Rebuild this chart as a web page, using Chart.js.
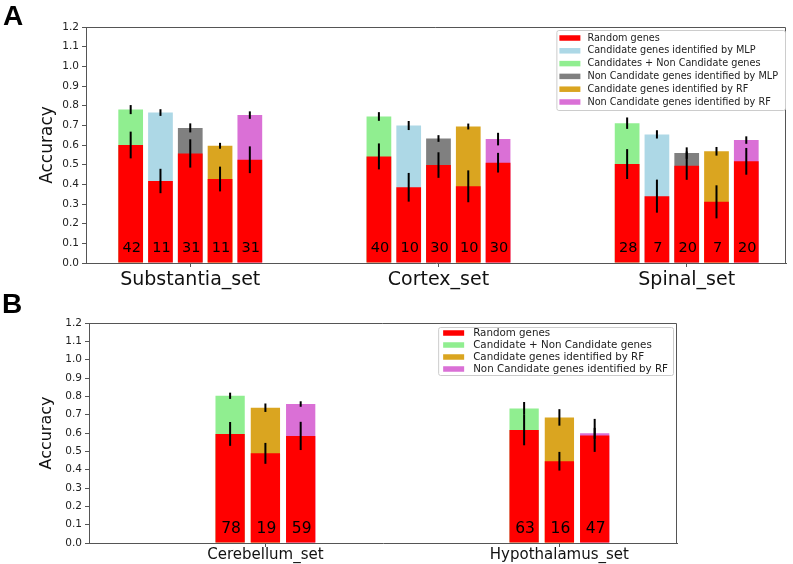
<!DOCTYPE html>
<html>
<head>
<meta charset="utf-8">
<script src="https://cdn.jsdelivr.net/npm/chart.js@4.4.1/dist/chart.umd.min.js"></script>
<style>
  body { margin: 0; background: #fff; width: 793px; height: 564px; position: relative; overflow: hidden; }
  .panel { position: absolute; left: 0; }
  .tag { position: absolute; z-index: 2; font: bold 28px 'Liberation Sans', Arial, sans-serif; color: #000; line-height: normal; }
</style>
</head>
<body>
<div class="panel" style="top:0"><canvas id="chartA" width="793" height="295"></canvas></div>
<div class="panel" style="top:290px"><canvas id="chartB" width="793" height="274"></canvas></div>
<div class="tag" style="left:3px; top:0">A</div>
<div class="tag" style="left:2px; top:288px">B</div>
<script>
Chart.defaults.font.family = "'DejaVu Sans', sans-serif";
Chart.defaults.color = '#222';

// panel A
const groupsA = ['Substantia_set', 'Cortex_set', 'Spinal_set'];
const randomA = [0.600, 0.417, 0.557, 0.427, 0.525, 0.542, 0.385, 0.498, 0.390, 0.510, 0.503, 0.340, 0.495, 0.311, 0.517];
const randomErrA = [0.068, 0.062, 0.072, 0.063, 0.068, 0.066, 0.073, 0.065, 0.081, 0.050, 0.076, 0.084, 0.072, 0.084, 0.068];
const countsA = [42, 11, 31, 11, 31, 40, 10, 30, 10, 30, 28, 7, 20, 7, 20];
const candMlpA = [0.765, 0.699, 0.654];
const candMlpErrA = [0.017, 0.023, 0.021];
const bothA = [0.780, 0.745, 0.711];
const bothErrA = [0.023, 0.022, 0.029];
const nonMlpA = [0.687, 0.633, 0.559];
const nonMlpErrA = [0.023, 0.017, 0.029];
const candRfA = [0.596, 0.694, 0.568];
const candRfErrA = [0.015, 0.015, 0.022];
const nonRfA = [0.752, 0.630, 0.625];
const nonRfErrA = [0.019, 0.032, 0.019];

// panel B
const groupsB = ['Cerebellum_set', 'Hypothalamus_set'];
const randomB = [0.595, 0.489, 0.584, 0.616, 0.446, 0.587];
const randomErrB = [0.065, 0.057, 0.077, 0.083, 0.051, 0.090];
const countsB = [78, 19, 59, 63, 16, 47];
const bothB = [0.803, 0.734];
const bothErrB = [0.017, 0.035];
const candRfB = [0.738, 0.685];
const candRfErrB = [0.023, 0.045];
const nonRfB = [0.758, 0.598];
const nonRfErrB = [0.015, 0.030];

const yTicks = [0.0, 0.1, 0.2, 0.3, 0.4, 0.5, 0.6, 0.7, 0.8, 0.9, 1.0, 1.1, 1.2];

const RED = '#ff0000', LIGHTBLUE = '#add8e6', LIGHTGREEN = '#90ee90';
const GRAY = '#808080', GOLD = '#daa520', ORCHID = '#da70d6';
const SPINE = '#555';
const BAR_STEP = 0.12;

function slotX(group, slot, nSlots) {
  return group + (slot - (nSlots - 1) / 2) * BAR_STEP;
}

function randomSet(values, errs, counts, nSlots) {
  return {
    label: 'Random genes',
    backgroundColor: RED,
    data: values.map((v, i) => ({ x: slotX(Math.floor(i / nSlots), i % nSlots, nSlots), y: v })),
    errors: errs,
    counts: counts,
  };
}

function topSet(label, color, slot, nSlots, values, errs) {
  return {
    label: label,
    backgroundColor: color,
    data: values.map((v, g) => ({ x: slotX(g, slot, nSlots), y: v })),
    errors: errs,
  };
}

// top + right spines
const frame = {
  id: 'frame',
  afterDraw(chart) {
    const { ctx, chartArea: { left, right, top, bottom } } = chart;
    ctx.save();
    ctx.strokeStyle = SPINE;
    ctx.lineWidth = 1;
    ctx.beginPath();
    ctx.moveTo(left, top + 0.5);
    ctx.lineTo(right - 0.5, top + 0.5);
    ctx.lineTo(right - 0.5, bottom);
    ctx.stroke();
    ctx.restore();
  },
};

// error bars and the gene counts at the foot of each bar
const barNotes = {
  id: 'barNotes',
  afterDatasetsDraw(chart, args, opts) {
    const { ctx, scales: { y } } = chart;
    ctx.save();
    ctx.strokeStyle = '#000';
    ctx.lineWidth = 2;
    chart.data.datasets.forEach((ds, i) => {
      chart.getDatasetMeta(i).data.forEach((bar, j) => {
        const v = ds.data[j].y;
        const e = ds.errors[j];
        ctx.beginPath();
        ctx.moveTo(bar.x, y.getPixelForValue(v - e));
        ctx.lineTo(bar.x, y.getPixelForValue(v + e));
        ctx.stroke();
      });
    });

    const base = chart.data.datasets[0];
    ctx.font = opts.fontSize + "px 'DejaVu Sans'";
    ctx.fillStyle = '#000';
    ctx.textAlign = 'center';
    ctx.textBaseline = 'middle';
    chart.getDatasetMeta(0).data.forEach((bar, j) => {
      ctx.fillText(String(base.counts[j]), bar.x + 1, y.getPixelForValue(opts.at));
    });
    ctx.restore();
  },
};

// matplotlib style legend box
const boxLegend = {
  id: 'boxLegend',
  afterDraw(chart, args, o) {
    const { ctx, chartArea } = chart;
    const items = chart.data.datasets.map((d) => ({ text: d.label, color: d.backgroundColor }));
    ctx.save();
    ctx.font = o.fontSize + "px 'DejaVu Sans'";
    const textW = Math.max(...items.map((it) => ctx.measureText(it.text).width));
    const w = o.textX + textW + o.padRight;
    const h = o.padTop * 2 + o.rowH * (items.length - 1) + 6;
    const left = chartArea.right - o.offsetRight - w;
    const top = chartArea.top + o.offsetTop;

    ctx.fillStyle = 'rgba(255,255,255,0.9)';
    ctx.strokeStyle = '#cccccc';
    ctx.lineWidth = 1;
    ctx.beginPath();
    ctx.roundRect(left + 0.5, top + 0.5, w, h, 2);
    ctx.fill();
    ctx.stroke();

    ctx.textAlign = 'left';
    ctx.textBaseline = 'middle';
    items.forEach((it, i) => {
      const cy = top + o.padTop + 3 + i * o.rowH;
      ctx.fillStyle = it.color;
      ctx.fillRect(left + o.swatchX, cy - o.swatchH / 2, o.swatchW, o.swatchH);
      ctx.fillStyle = '#222';
      ctx.fillText(it.text, left + o.textX, cy);
    });
    ctx.restore();
  },
};

function makeChart(id, groups, datasets, o) {
  return new Chart(document.getElementById(id), {
    type: 'bar',
    data: { datasets: datasets },
    options: {
      responsive: false,
      animation: false,
      layout: { padding: o.padding },
      datasets: {
        bar: { grouped: false, barPercentage: 0.83, categoryPercentage: 1, borderWidth: 0 },
      },
      scales: {
        x: {
          type: 'linear',
          min: o.xMin,
          max: o.xMax,
          bounds: 'data',
          offset: false,
          afterFit: (s) => { s.height = o.xHeight; },
          afterBuildTicks: (s) => { s.ticks = groups.map((_, i) => ({ value: i })); },
          ticks: {
            callback: (v) => groups[v],
            font: { size: o.xFont },
            color: '#111',
            padding: o.xPad,
            maxRotation: 0,
            autoSkip: false,
          },
          grid: { display: true, drawOnChartArea: false, tickLength: 4, color: SPINE, offset: false },
          border: { color: SPINE },
        },
        y: {
          min: 0,
          max: 1.2,
          bounds: 'data',
          afterFit: (s) => { s.width = o.yWidth; },
          afterBuildTicks: (s) => { s.ticks = yTicks.map((v) => ({ value: v })); },
          ticks: {
            callback: (v) => v.toFixed(1),
            font: { size: 10.5 },
            color: '#222',
            padding: 3,
            autoSkip: false,
          },
          grid: { display: true, drawOnChartArea: false, tickLength: 4, color: SPINE },
          border: { color: SPINE },
          title: {
            display: true,
            text: 'Accuracy',
            font: { size: o.titleFont },
            color: '#111',
            padding: { top: 37, bottom: 0 },
          },
        },
      },
      plugins: {
        legend: { display: false },
        tooltip: { enabled: false },
        barNotes: { fontSize: o.countFont, at: 0.075 },
        boxLegend: o.legend,
      },
    },
    plugins: [frame, barNotes, boxLegend],
  });
}

makeChart('chartA', groupsA, [
  randomSet(randomA, randomErrA, countsA, 5),
  topSet('Candidate genes identified by MLP', LIGHTBLUE, 1, 5, candMlpA, candMlpErrA),
  topSet('Candidates + Non Candidate genes', LIGHTGREEN, 0, 5, bothA, bothErrA),
  topSet('Non Candidate genes identified by MLP', GRAY, 2, 5, nonMlpA, nonMlpErrA),
  topSet('Candidate genes identified by RF', GOLD, 3, 5, candRfA, candRfErrA),
  topSet('Non Candidate genes identified by RF', ORCHID, 4, 5, nonRfA, nonRfErrA),
], {
  padding: { left: 0, top: 27, right: 7, bottom: 0 },
  xMin: -0.42, xMax: 2.40,
  xHeight: 32, yWidth: 86,
  xFont: 19, xPad: 2, titleFont: 17, countFont: 14.5,
  legend: { fontSize: 9.7, rowH: 12.8, padTop: 5, swatchX: 3, swatchW: 21, swatchH: 5.5, textX: 31, padRight: 7, offsetRight: 1, offsetTop: 3 },
});

makeChart('chartB', groupsB, [
  randomSet(randomB, randomErrB, countsB, 3),
  topSet('Candidate + Non Candidate genes', LIGHTGREEN, 0, 3, bothB, bothErrB),
  topSet('Candidate genes identified by RF', GOLD, 1, 3, candRfB, candRfErrB),
  topSet('Non Candidate genes identified by RF', ORCHID, 2, 3, nonRfB, nonRfErrB),
], {
  padding: { left: 0, top: 33, right: 116, bottom: 0 },
  xMin: -0.6, xMax: 1.4,
  xHeight: 21, yWidth: 89,
  xFont: 15, xPad: -1, titleFont: 16, countFont: 15.5,
  legend: { fontSize: 10.3, rowH: 12, padTop: 3, swatchX: 5, swatchW: 21, swatchH: 5.5, textX: 35, padRight: 5, offsetRight: 4, offsetTop: 4 },
});
</script>
</body>
</html>
